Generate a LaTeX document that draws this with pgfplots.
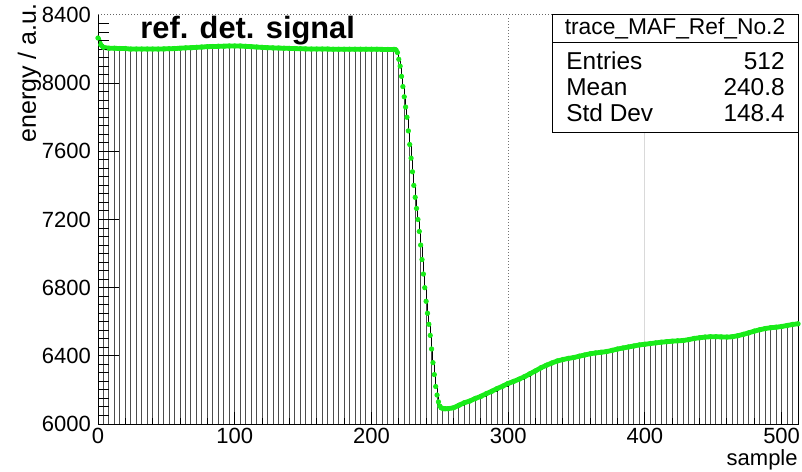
\documentclass[border=0pt]{standalone}
\usepackage{fontspec}
\setmainfont{Liberation Sans}
\usepackage{pgfplots}
\usepackage{pgfplotstable}
\pgfplotsset{compat=1.18}
\definecolor{rootgreen}{RGB}{25,235,25}
\pgfplotstableread{
x y
0 8265
2 8225
4 8210
8 8205
12 8205
16 8203
20 8203
24 8200
28 8200
32 8200
36 8200
40 8200
44 8200
48 8201
52 8202
56 8203
60 8205
64 8207
68 8208
72 8210
76 8212
80 8214
84 8215
88 8216
92 8217
96 8218
100 8218
104 8218
108 8216
112 8214
116 8212
120 8210
124 8208
128 8207
132 8206
136 8205
140 8204
144 8203
148 8202
152 8201
156 8200
160 8200
164 8200
168 8200
172 8199
176 8199
180 8199
184 8199
188 8199
192 8199
196 8199
200 8199
204 8199
208 8198
212 8198
216 8198
217 8198
218 8195
219 8180
220 8140
221 8100
222 8040
223 7980
224 7920
225 7860
226 7800
227 7720
228 7640
229 7560
230 7480
231 7400
232 7330
233 7265
234 7200
235 7130
236 7050
237 6965
238 6880
239 6800
240 6720
241 6650
242 6585
243 6520
244 6440
245 6360
246 6290
247 6220
248 6170
249 6130
250 6105
251 6095
252 6092
253 6090
254 6090
256 6090
260 6095
264 6110
268 6125
272 6135
276 6150
280 6162
284 6178
288 6192
292 6208
296 6222
300 6238
304 6250
308 6263
312 6278
316 6295
320 6312
324 6330
328 6345
332 6358
336 6370
340 6378
344 6385
348 6390
352 6398
356 6405
360 6412
364 6417
368 6421
372 6425
376 6432
380 6440
384 6446
388 6452
392 6458
396 6464
400 6468
404 6472
408 6476
412 6480
416 6483
420 6486
424 6488
428 6490
432 6495
436 6502
440 6506
444 6510
448 6512
452 6512
456 6511
460 6510
464 6512
468 6518
472 6526
476 6535
480 6545
484 6553
488 6560
492 6565
496 6568
500 6572
504 6578
508 6584
512 6588
}\trace
\begin{document}
\begin{tikzpicture}
\begin{axis}[
  at={(0,0)}, anchor=south west,
  scale only axis, width=350pt, height=204.5pt,
  xmin=0, xmax=512, ymin=6000, ymax=8400,
  xtick={0,100,...,500}, ytick={6000,6400,...,8400},
  minor x tick num=4, minor y tick num=7,
  tick pos=left, tick align=inside,
  xtick style={/pgfplots/major tick length=6pt,/pgfplots/minor tick length=3pt,black,line width=0.5pt},
  ytick style={/pgfplots/major tick length=10.5pt,/pgfplots/minor tick length=5.25pt,black,line width=0.5pt},
  axis on top,
  axis line style={line width=0.5pt},
  ticklabel style={font=\fontsize{11}{13}\selectfont},
  /pgf/number format/assume math mode=true,
  /pgf/number format/1000 sep={},
  xticklabel style={yshift=1.5pt},
]
\draw[black!55, densely dotted, line width=0.5pt] (axis cs:300,6000) -- (axis cs:300,8400);
\draw[black!15, line width=0.4pt] (axis cs:400,6000) -- (axis cs:400,8400);
\addplot[fill=white, draw=none] table[x=x,y=y] {\trace} \closedcycle;
\addplot[ycomb, black!70, line width=0.5pt, no marks,
  x filter/.expression={abs(x/4-round(x/4))<0.01 ? x : nan}, unbounded coords=discard]
  table[x=x,y=y] {\trace};
\addplot[const plot, black, line width=0.5pt, no marks] table[x=x,y=y] {\trace};
\addplot[rootgreen, line width=2.4pt, no marks,
  y filter/.expression={(x>218.5 && x<251.5) ? nan : y}, unbounded coords=jump]
  table[x=x,y=y] {\trace};
\addplot[only marks, mark=*, mark size=1.1pt, rootgreen, mark options={draw=none, fill=rootgreen}]
  table[x=x,y=y] {\trace};
\end{axis}
\draw[white, line width=1.2pt] (0.6pt,204.5pt) -- (349.4pt,204.5pt);
\draw[black!60, densely dotted, line width=0.5pt] (0,204.5pt) -- (227pt,204.5pt);
\draw[fill=white, line width=0.5pt] (227pt,145.5pt) rectangle (350pt,204.5pt);
\draw[line width=0.5pt] (227pt,190.5pt) -- (350pt,190.5pt);
\begin{scope}[every node/.style={inner sep=0pt, font=\fontsize{12.2}{14}\selectfont}]
\node[font=\fontsize{11.4}{13}\selectfont] at (288.5pt,197.5pt) {trace\_MAF\_Ref\_No.2};
\node[anchor=west] at (234pt,181.5pt) {Entries};
\node[anchor=east] at (343.5pt,181.5pt) {512};
\node[anchor=west] at (234pt,168.5pt) {Mean};
\node[anchor=east] at (343.5pt,168.5pt) {240.8};
\node[anchor=west] at (234pt,155.5pt) {Std Dev};
\node[anchor=east] at (343.5pt,155.5pt) {148.4};
\end{scope}
\node[anchor=base west, inner sep=0pt, font=\bfseries\fontsize{15.4}{17}\selectfont] at (21pt,192.5pt) {ref. det. signal};
\node[anchor=base east, inner sep=0pt, font=\fontsize{11}{13}\selectfont] at (350pt,-20.5pt) {sample};
\node[rotate=90, anchor=base east, inner sep=0pt, font=\fontsize{12.5}{14}\selectfont] at (-31pt,210.5pt) {energy / a.u.};
\pgfresetboundingbox
\path[use as bounding box] (-49pt,-23.5pt) rectangle (352pt,212pt);
\end{tikzpicture}
\end{document}
